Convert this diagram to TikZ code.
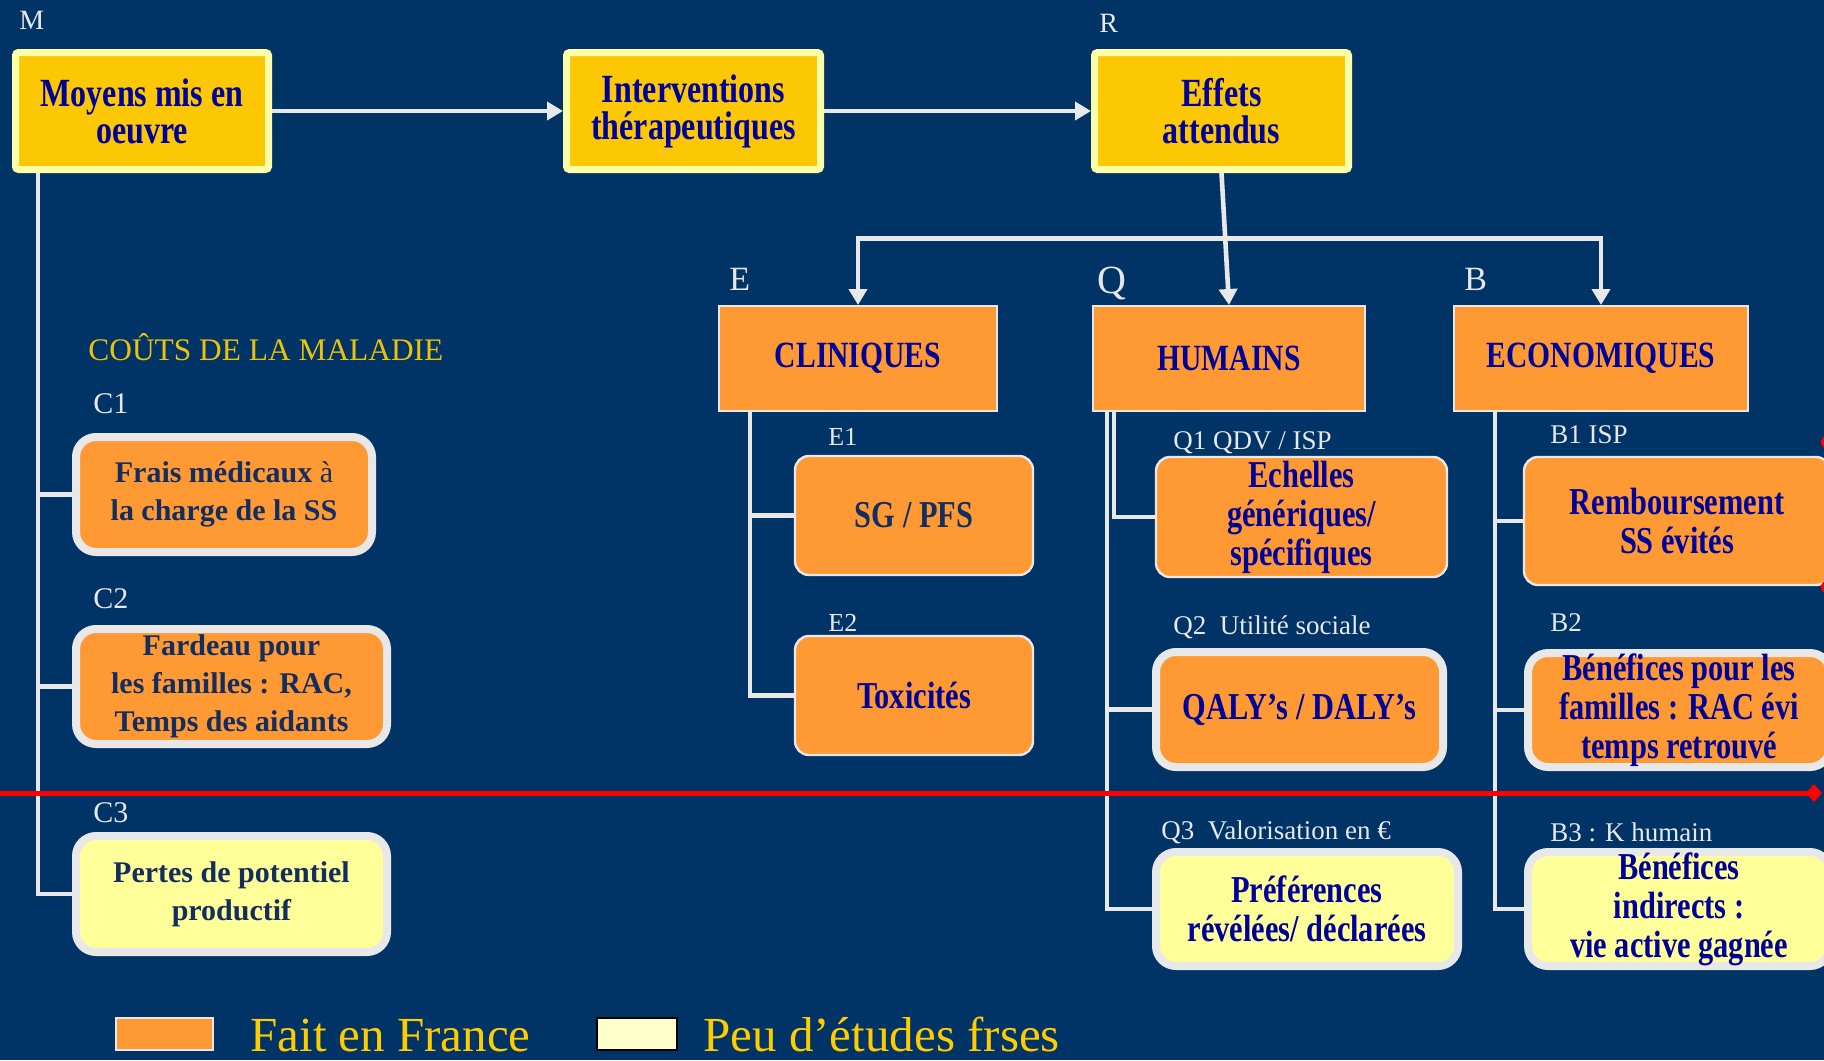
\documentclass[tikz,border=0pt]{standalone}
\usepackage{fontspec}
\setmainfont{Liberation Serif}
\newfontfamily\cf[FakeStretch=0.8]{Liberation Serif}
\usetikzlibrary{arrows.meta}
\definecolor{bg}{RGB}{0,51,102}
\definecolor{gold}{RGB}{252,200,4}
\definecolor{paleyel}{RGB}{255,255,170}
\definecolor{orng}{RGB}{255,153,51}
\definecolor{lyel}{RGB}{255,255,153}
\definecolor{lgray}{RGB}{232,232,232}
\definecolor{tblue}{RGB}{0,0,153}
\definecolor{tnavy}{RGB}{20,45,95}
\definecolor{ttl}{RGB}{235,195,10}
\definecolor{legy}{RGB}{255,204,0}
\definecolor{legpale}{RGB}{255,255,204}
\begin{document}
\begin{tikzpicture}[x=0.5pt,y=-0.5pt,
 topbox/.style={draw=paleyel, fill=gold, line width=3.5pt, rounded corners=1.5pt, inner sep=0pt, align=center, text=tblue, font=\cf\bfseries\fontsize{20}{18.5}\selectfont},
 catbox/.style={draw=lgray, fill=orng, line width=1pt, inner sep=0pt, align=center, text=tblue, font=\cf\bfseries\fontsize{18.5}{19}\selectfont},
 subbox/.style={draw=lgray, fill=orng, line width=1.2pt, rounded corners=7pt, inner sep=0pt, align=center, text=tblue, font=\cf\bfseries\fontsize{19}{19.5}\selectfont},
 thickbox/.style={subbox, line width=4pt, rounded corners=10pt},
 cbox/.style={thickbox, text=tnavy, font=\bfseries\fontsize{15}{19}\selectfont},
 pale/.style={fill=lyel},
 lbl/.style={text=lgray, inner sep=0pt, anchor=west},
 conn/.style={draw=lgray, line width=2.3pt},
 arr/.style={-{Triangle[length=8pt,width=9pt]}},
]
\fill[bg] (0,0) rectangle (1824,1060);
\useasboundingbox (0,0) rectangle (1824,1060);

% top row
\node[topbox, minimum width=126.5pt, minimum height=58.5pt] (moy) at (142,111) {Moyens mis en\\oeuvre};
\node[topbox, minimum width=127pt, minimum height=58.5pt] (int) at (693.5,111) {Interventions\\thérapeutiques};
\node[topbox, minimum width=127pt, minimum height=58.5pt] (eff) at (1221.5,111) {Effets\\attendus};
\draw[conn,arr] (moy) -- (int);
\draw[conn,arr] (int) -- (eff);

% categories
\node[catbox, minimum width=139pt, minimum height=52.5pt] (cli) at (858,358.5) {CLINIQUES};
\node[catbox, minimum width=136pt, minimum height=52.5pt] (hum) at (1229,358.5) {HUMAINS};
\node[catbox, minimum width=147pt, minimum height=52.5pt] (eco) at (1601,358.5) {ECONOMIQUES};
\draw[conn,arr] (eff.south) -- (hum.north);
\coordinate (bar) at (1222,238.5);
\draw[conn,{Triangle[length=8pt,width=9pt]}-{Triangle[length=8pt,width=9pt]}] (cli.north) |- (bar) -| (eco.north);

% E column
\node[subbox, minimum width=119pt, minimum height=59.5pt, text=tnavy] (e1) at (914,515.5) {SG / PFS};
\node[subbox, minimum width=119pt, minimum height=59.5pt] (e2) at (914,695.5) {Toxicités};
\coordinate (ecol) at (750,411);
\draw[conn] (ecol) |- (e2.west);
\draw[conn] (ecol |- e1.west) -- (e1.west);

% Q column
\node[subbox, minimum width=145.5pt, minimum height=60pt] (q1) at (1301.5,517) {Echelles\\génériques/\\spécifiques};
\node[thickbox, minimum width=143.5pt, minimum height=57.5pt] (q2) at (1299.5,709.5) {QALY’s / DALY’s};
\node[thickbox, pale, minimum width=151pt, minimum height=57pt] (q3) at (1307,909) {Préférences\\révélées/ déclarées};
\coordinate (qcol) at (1107,411);
\draw[conn] (qcol) |- (q3.west);
\draw[conn] (qcol |- q2.west) -- (q2.west);
\coordinate (qcolb) at (1114,411);
\draw[conn] (qcolb) |- (q1.west);

% B column
\node[subbox, minimum width=153pt, minimum height=64pt] (b1) at (1677,521) {Remboursement\\SS évités};
\node[thickbox, minimum width=151pt, minimum height=57pt] (b2) at (1679,710) {Bénéfices pour les\\familles : RAC évi\\temps retrouvé};
\node[thickbox, pale, minimum width=151pt, minimum height=57pt] (b3) at (1679,909) {Bénéfices\\indirects :\\vie active gagnée};
\coordinate (bcol) at (1495,411);
\draw[conn] (bcol) |- (b3.west);
\draw[conn] (bcol |- b1.west) -- (b1.west);
\draw[conn] (bcol |- b2.west) -- (b2.west);

% C column
\node[cbox, minimum width=148pt, minimum height=57.5pt] (c1) at (224,494.5) {Frais médicaux {\mdseries à}\\la charge de la SS};
\node[cbox, minimum width=155.5pt, minimum height=57.5pt] (c2) at (231.5,686.5) {Fardeau pour\\ les familles : RAC,\\Temps des aidants};
\node[cbox, pale, minimum width=155.5pt, minimum height=58pt] (c3) at (231.5,894) {Pertes de potentiel\\productif};
\coordinate (ccol) at (38,173);
\draw[conn] (ccol) |- (c3.west);
\draw[conn] (ccol |- c1.west) -- (c1.west);
\draw[conn] (ccol |- c2.west) -- (c2.west);

% labels
\node[lbl, font=\fontsize{14}{14}\selectfont] (lM) at (19,20) {M};
\node[lbl, font=\fontsize{14}{14}\selectfont] (lR) at (1099,23) {R};
\node[lbl, font=\fontsize{17}{17}\selectfont] (lE) at (729,279) {E};
\node[lbl, font=\fontsize{20}{20}\selectfont] (lQ) at (1097,283) {Q};
\node[lbl, font=\fontsize{17}{17}\selectfont] (lB) at (1464,279) {B};
\node[lbl, text=ttl, font=\fontsize{15.7}{15.7}\selectfont] (title) at (88,347) {COÛTS DE LA MALADIE};
\node[lbl, font=\fontsize{15}{15}\selectfont] (lC1) at (93,404) {C1};
\node[lbl, font=\fontsize{15}{15}\selectfont] (lC2) at (93,599) {C2};
\node[lbl, font=\fontsize{15}{15}\selectfont] (lC3) at (93,813) {C3};
\node[lbl, font=\fontsize{13}{13}\selectfont] (lE1) at (828,437) {E1};
\node[lbl, font=\fontsize{13}{13}\selectfont] (lE2) at (828,623) {E2};
\node[lbl, font=\fontsize{13.5}{13.5}\selectfont] (lQ1) at (1173,443) {Q1 QDV / ISP};
\node[lbl, font=\fontsize{13.5}{13.5}\selectfont] (lQ2) at (1173,627) {Q2\ \ Utilité sociale};
\node[lbl, font=\fontsize{13.5}{13.5}\selectfont] (lQ3) at (1161,832) {Q3\ \ Valorisation en €};
\node[lbl, font=\fontsize{13.5}{13.5}\selectfont] (lB1) at (1550,435) {B1 ISP};
\node[lbl, font=\fontsize{13.5}{13.5}\selectfont] (lB2) at (1550,623) {B2};
\node[lbl, font=\fontsize{13.5}{13.5}\selectfont] (lB3) at (1550,832) {B3 : K humain};

% red line
\coordinate (rl) at (0,793);
\coordinate (rr) at (1822,793);
\draw[draw=red, line width=2.5pt, -{Diamond[length=8pt,width=9pt]}] (rl) -- (rr);
\fill[red] (1828,442) circle (3.5pt);
\fill[red] (1828,587) circle (3.5pt);

% legend
\node[draw=lgray, fill=orng, line width=1pt, minimum width=48.5pt, minimum height=16pt, inner sep=0pt] (lg1) at (164.5,1034) {};
\node[lbl, text=legy, font=\fontsize{24.5}{24.5}\selectfont, anchor=base west] (lt1) at (250,1051) {Fait en France};
\node[draw=black, fill=legpale, line width=1.2pt, minimum width=40pt, minimum height=16pt, inner sep=0pt] (lg2) at (637,1034) {};
\node[lbl, text=legy, font=\fontsize{24.5}{24.5}\selectfont, anchor=base west] (lt2) at (703,1051) {Peu d’études frses};
\end{tikzpicture}
\end{document}
